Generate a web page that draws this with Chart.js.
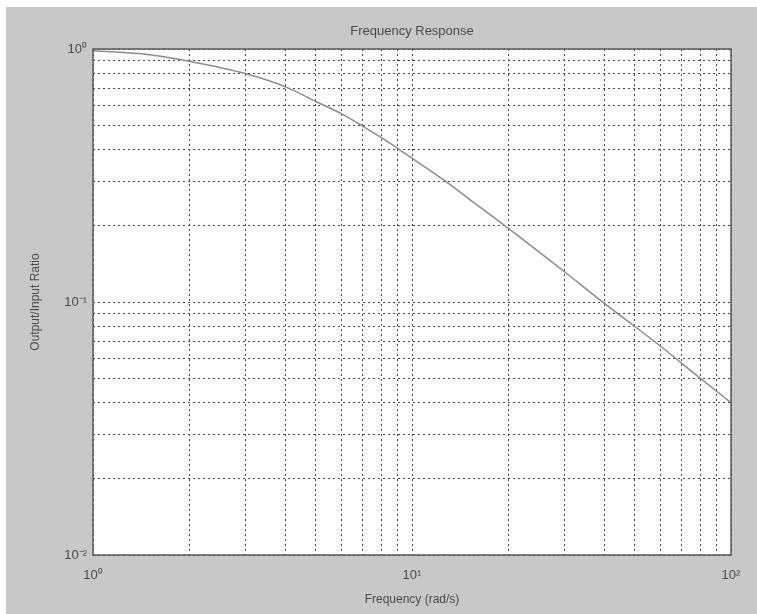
<!DOCTYPE html>
<html>
<head>
<meta charset="utf-8">
<script src="https://cdn.jsdelivr.net/npm/chart.js@4/dist/chart.umd.min.js"></script>
<style>
  html, body { margin: 0; padding: 0; background: #fff; }
  #wrap { width: 757px; height: 614px; }
</style>
</head>
<body>
<div id="wrap"><canvas id="chartCanvas" width="757" height="614"></canvas></div>
<script>
// Values (log-log frequency response)
const frequencies = [1, 1.5, 2, 3, 4, 5, 6, 7, 8, 10, 12.5, 15, 20, 30, 40, 50, 60, 80, 100];
const ratios = [0.985, 0.95, 0.895, 0.80, 0.71, 0.62, 0.555, 0.496, 0.447, 0.37, 0.305, 0.257, 0.196, 0.132, 0.099, 0.08, 0.067, 0.05, 0.04];

const xTicks = [1, 2, 3, 4, 5, 6, 7, 8, 9, 10, 20, 30, 40, 50, 60, 70, 80, 90, 100];
const yTicks = [0.01, 0.02, 0.03, 0.04, 0.05, 0.06, 0.07, 0.08, 0.09,
                0.1, 0.2, 0.3, 0.4, 0.5, 0.6, 0.7, 0.8, 0.9, 1];
const xLabels = { 1: "10⁰", 10: "10¹", 100: "10²" };
const yLabels = { 0.01: "10⁻²", 0.1: "10⁻¹", 1: "10⁰" };
const chartTitle = "Frequency Response";

const textColor = "#4a4a4a";
const gridColor = "#4a4a4a";
const font = "Liberation Sans, Arial, sans-serif";

(function () {
  const ctx = document.getElementById("chartCanvas").getContext("2d");

  // gray figure background, white plot area, box and title centred over the axes
  const frame = {
    id: "frame",
    beforeDraw(chart) {
      const c = chart.ctx, a = chart.chartArea;
      c.save();
      c.fillStyle = "#fff";
      c.fillRect(0, 0, chart.width, chart.height);
      c.fillStyle = "#c8c8c8";
      c.fillRect(6, 7, chart.width - 6, chart.height - 7);
      c.fillStyle = "#fdfdfd";
      c.fillRect(a.left, a.top, a.right - a.left, a.bottom - a.top);
      c.restore();
    },
    afterDraw(chart) {
      const c = chart.ctx, a = chart.chartArea;
      c.save();
      c.strokeStyle = "#5a5a5a";
      c.lineWidth = 1.5;
      c.strokeRect(a.left, a.top, a.right - a.left, a.bottom - a.top);
      c.fillStyle = textColor;
      c.font = "13px " + font;
      c.textAlign = "center";
      c.textBaseline = "middle";
      c.fillText(chartTitle, (a.left + a.right) / 2, 31);
      c.restore();
    }
  };

  new Chart(ctx, {
    type: "line",
    data: {
      datasets: [{
        data: frequencies.map((f, i) => ({ x: f, y: ratios[i] })),
        borderColor: "#8c8c8c",
        borderWidth: 1.5,
        pointRadius: 0,
        cubicInterpolationMode: "monotone",
        fill: false
      }]
    },
    options: {
      responsive: false,
      animation: false,
      layout: { padding: { left: 6, right: 26, top: 49, bottom: 7 } },
      plugins: {
        legend: { display: false },
        tooltip: { enabled: false },
        title: { display: false }
      },
      scales: {
        x: {
          type: "logarithmic",
          min: 1, max: 100,
          afterBuildTicks(s) { s.ticks = xTicks.map(v => ({ value: v })); },
          afterFit(s) { s.height = 52; },
          ticks: {
            autoSkip: false, maxRotation: 0,
            color: textColor, padding: 13,
            font: { family: font, size: 13 },
            callback: v => xLabels[v] || ""
          },
          grid: { color: gridColor, lineWidth: 1, drawTicks: false },
          border: { display: false, dash: [2, 3] },
          title: {
            display: true, text: "Frequency (rad/s)", color: textColor,
            font: { family: font, size: 12 },
            padding: { top: 0, bottom: 0 }
          }
        },
        y: {
          type: "logarithmic",
          min: 0.01, max: 1,
          afterBuildTicks(s) { s.ticks = yTicks.map(v => ({ value: v })); },
          afterFit(s) { s.width = 87; },
          ticks: {
            autoSkip: false, color: textColor, padding: 6,
            font: { family: font, size: 13 },
            callback: v => yLabels[+v.toPrecision(3)] || ""
          },
          grid: { color: gridColor, lineWidth: 1, drawTicks: false },
          border: { display: false, dash: [2, 3] },
          title: {
            display: true, text: "Output/Input Ratio", color: textColor,
            font: { family: font, size: 12 },
            padding: { top: 22, bottom: 0 }
          }
        }
      }
    },
    plugins: [frame]
  });
})();
</script>
</body>
</html>
